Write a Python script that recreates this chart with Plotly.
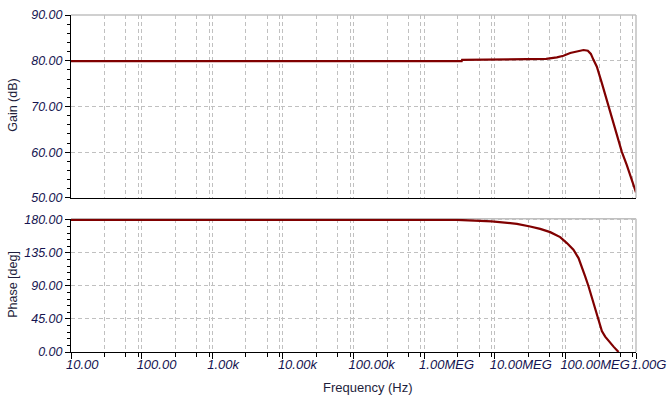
import plotly.graph_objects as go
from plotly.subplots import make_subplots

# ---- data ----
gain_freq = [10, 3.4e6, 3.45e6, 53.5e6, 75.7e6, 94e6, 117e6, 145e6, 180.6e6, 208e6,
             229.5e6, 250e6, 279e6, 328.5e6, 386e6, 455e6, 536e6, 630e6, 741e6, 873e6, 1e9]
gain_db = [79.9, 79.9, 80.2, 80.4, 80.75, 81.1, 81.7, 82.1, 82.35, 82.2,
           81.5, 80.2, 78.7, 75.1, 71.4, 67.4, 63.8, 60.1, 57.2, 53.9, 51.2]

phase_freq = [10, 2.9e6, 9.08e6, 14.8e6, 20.6e6, 31.7e6, 44e6, 61e6, 84.4e6, 105e6, 130e6,
              153.5e6, 171e6, 190.6e6, 212.6e6, 237e6, 264e6, 294.6e6, 328.5e6, 366e6,
              408e6, 480.6e6, 566e6]
phase_deg = [180, 180, 178, 175.5, 174.6, 171, 167.8, 163.3, 156.5, 148.4, 139.3,
             128, 116.7, 103.1, 89.6, 73.8, 57.9, 40.7, 28.5, 20.9,
             15.0, 7.3, 0]

x_tick_vals = [1e1, 1e2, 1e3, 1e4, 1e5, 1e6, 1e7, 1e8, 1e9]
x_tick_text = ["10.00", "100.00", "1.00k", "10.00k", "100.00k", "1.00MEG",
               "10.00MEG", "100.00MEG", "1.00G"]
x_minor_vals = [m * 10 ** e for e in range(1, 9) for m in (3, 6, 9)]

gain_ticks = [50, 60, 70, 80, 90]
gain_tick_text = ["50.00", "60.00", "70.00", "80.00", "90.00"]
phase_ticks = [0, 45, 90, 135, 180]
phase_tick_text = ["0.00", "45.00", "90.00", "135.00", "180.00"]

# ---- style ----
LINE = "#800000"
GRID = "#c0c0c0"
TICKCOL = "#141450"
TITLECOL = "#1e1e3c"
FONT = "Liberation Sans, Arial, sans-serif"

fig = make_subplots(rows=2, cols=1, shared_xaxes=False, vertical_spacing=0.0)
fig.add_trace(go.Scatter(x=gain_freq, y=gain_db, mode="lines",
                         line=dict(color=LINE, width=2.2), showlegend=False), row=1, col=1)
fig.add_trace(go.Scatter(x=phase_freq, y=phase_deg, mode="lines",
                         line=dict(color=LINE, width=2.2), showlegend=False), row=2, col=1)

common_x = dict(type="log", range=[1, 9], showline=True, linecolor="black", linewidth=1,
                tickmode="array", tickvals=x_tick_vals, automargin=False,
                showgrid=True, gridcolor=GRID, griddash="4px,3px", gridwidth=1,
                zeroline=False)

fig.update_layout(
    width=668, height=409,
    margin=dict(l=71, r=32, t=15, b=57, autoexpand=False),
    paper_bgcolor="white", plot_bgcolor="white",
    font=dict(family=FONT, color=TITLECOL),
    xaxis=dict(**common_x, domain=[0, 1], anchor="y", ticks="", showticklabels=False,
               minor=dict(tickmode="array", tickvals=x_minor_vals, showgrid=True,
                          gridcolor=GRID, griddash="4px,3px", gridwidth=1, ticks="")),
    yaxis=dict(domain=[0.457, 1.0], anchor="x", range=[50, 90], tickmode="array",
               tickvals=gain_ticks, ticktext=gain_tick_text, automargin=False,
               showline=True, linecolor="black", linewidth=1,
               ticks="outside", ticklen=5, tickcolor="black",
               showgrid=True, gridcolor=GRID, griddash="4px,3px", zeroline=False,
               tickfont=dict(family=FONT, size=12.5, color=TICKCOL, style="italic"),
               minor=dict(dtick=2, ticks="outside", ticklen=3, tickcolor="black", showgrid=False)),
    xaxis2=dict(**common_x, domain=[0, 1], anchor="y2", ticktext=x_tick_text,
                ticks="outside", ticklen=6, tickcolor="black", tickangle=0,
                ticklabelposition="outside right", ticklabelshift=-6,
                tickfont=dict(family=FONT, size=13, color=TICKCOL, style="italic"),
                minor=dict(tickmode="array", tickvals=x_minor_vals, showgrid=True,
                           gridcolor=GRID, griddash="4px,3px", gridwidth=1,
                           ticks="outside", ticklen=4, tickcolor="black")),
    yaxis2=dict(domain=[0.0, 0.3953], anchor="x2", range=[0, 181.5], tickmode="array",
                tickvals=phase_ticks, ticktext=phase_tick_text, automargin=False,
                showline=True, linecolor="black", linewidth=1,
                ticks="outside", ticklen=5, tickcolor="black",
                showgrid=True, gridcolor=GRID, griddash="4px,3px", zeroline=False,
                tickfont=dict(family=FONT, size=12.5, color=TICKCOL, style="italic"),
                minor=dict(dtick=9, ticks="outside", ticklen=3, tickcolor="black", showgrid=False)),
)

# grey top/right frame lines
for xr, yr in (("x domain", "y domain"), ("x2 domain", "y2 domain")):
    fig.add_shape(type="line", xref=xr, yref=yr, x0=0, x1=1, y0=1, y1=1,
                  line=dict(color=GRID, width=1.5), layer="below")
    fig.add_shape(type="line", xref=xr, yref=yr, x0=1, x1=1, y0=0, y1=1,
                  line=dict(color=GRID, width=1.5), layer="above")

title_font = dict(family=FONT, size=12.5, color=TITLECOL)
fig.add_annotation(text="Gain (dB)", xref="paper", yref="paper", x=-0.103, y=0.733,
                   xanchor="center", yanchor="middle",
                   textangle=-90, showarrow=False, font=title_font)
fig.add_annotation(text="Phase [deg]", xref="paper", yref="paper", x=-0.103, y=0.2018,
                   xanchor="center", yanchor="middle",
                   textangle=-90, showarrow=False, font=title_font)
fig.add_annotation(text="Frequency (Hz)", xref="paper", yref="paper", x=0.5257, y=-0.1039,
                   xanchor="center", yanchor="middle",
                   showarrow=False, font=dict(family=FONT, size=13, color=TITLECOL))

fig.write_html("out.html", config={"displayModeBar": False},
               post_script="document.body.style.margin='0';document.body.style.padding='0';")
